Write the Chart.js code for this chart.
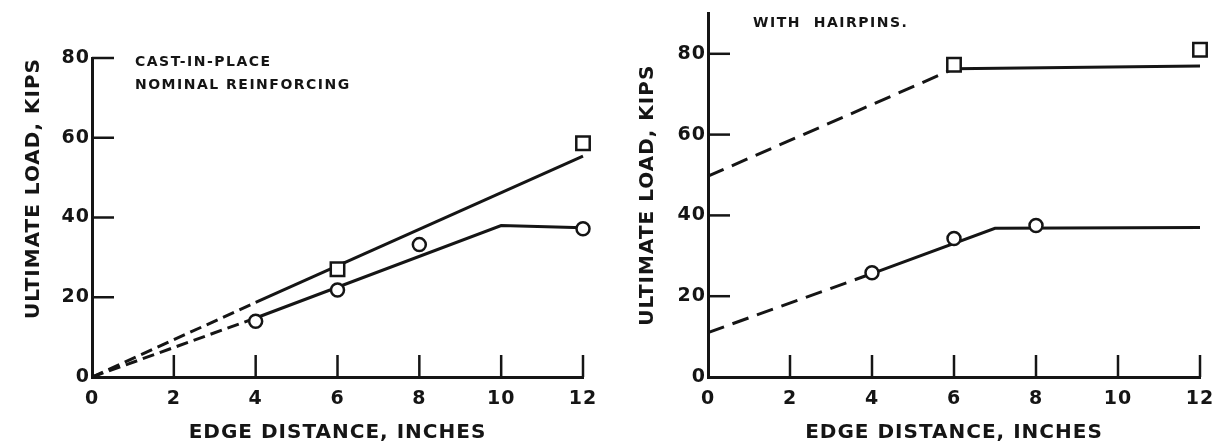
<!DOCTYPE html>
<html>
<head>
<meta charset="utf-8">
<script src="https://cdn.jsdelivr.net/npm/chart.js@4.4.1/dist/chart.umd.min.js"></script>
<style>
  html, body { margin: 0; padding: 0; background: #fff; }
  .panel { position: absolute; top: 0; height: 445px; }
  #left { left: 0; width: 612px; }
  #right { left: 612px; width: 613px; }
</style>
</head>
<body>
<div class="panel" id="left"><canvas id="chartLeft"></canvas></div>
<div class="panel" id="right"><canvas id="chartRight"></canvas></div>
<script>
const xTicks = [0, 2, 4, 6, 8, 10, 12];
const yTicks = [0, 20, 40, 60, 80];

// cast-in-place, nominal reinforcing
const leftSquareX = [6, 12];
const leftSquareY = [27, 58.6];
const leftCircleX = [4, 6, 8, 12];
const leftCircleY = [14, 21.8, 33.2, 37.2];
const leftUpperX = [0, 4, 12];
const leftUpperY = [0, 18.7, 55.4];
const leftLowerX = [0, 4, 10, 12];
const leftLowerY = [0, 14.8, 38, 37.4];

// with hairpins
const rightSquareX = [6, 12];
const rightSquareY = [77.3, 81];
const rightCircleX = [4, 6, 8];
const rightCircleY = [25.8, 34.3, 37.5];
const rightUpperX = [0, 6, 12];
const rightUpperY = [49.7, 76.3, 77];
const rightLowerX = [0, 4, 7, 12];
const rightLowerY = [11, 25.6, 36.8, 37];

const INK = '#151515';
const FONT = '"DejaVu Sans", "Liberation Sans", sans-serif';

const pts = (xs, ys) => xs.map((x, i) => ({x: x, y: ys[i]}));

// inward tick marks + the little notes, drawn from the scales
const innerTicks = {
  id: 'innerTicks',
  beforeDraw(chart) {
    chart.ctx.letterSpacing = '1px';
  },
  afterDraw(chart, args, opts) {
    const ctx = chart.ctx;
    const xs = chart.scales.x, ys = chart.scales.y;
    ctx.save();
    ctx.strokeStyle = INK;
    ctx.lineWidth = 2.5;
    xs.ticks.forEach(t => {
      if (t.value === 0) return;
      const px = xs.getPixelForValue(t.value);
      ctx.beginPath();
      ctx.moveTo(px, ys.bottom);
      ctx.lineTo(px, ys.bottom - 22);
      ctx.stroke();
    });
    ys.ticks.forEach(t => {
      if (t.value === 0) return;
      const py = ys.getPixelForValue(t.value);
      ctx.beginPath();
      ctx.moveTo(xs.left, py);
      ctx.lineTo(xs.left + 22, py);
      ctx.stroke();
    });
    ctx.fillStyle = INK;
    ctx.font = 'bold 14px ' + FONT;
    ctx.letterSpacing = '1.5px';
    ctx.textBaseline = 'middle';
    ctx.textAlign = 'left';
    opts.notes.forEach(n => {
      ctx.fillText(n.text, xs.getPixelForValue(n.x), ys.getPixelForValue(n.y));
    });
    ctx.restore();
  }
};

function lineSet(data, dash, dashUntil) {
  return {
    type: 'line',
    data: data,
    borderColor: INK,
    borderWidth: 3,
    pointRadius: 0,
    fill: false,
    tension: 0,
    clip: false,
    segment: {
      borderDash: c => c.p0DataIndex < dashUntil ? dash : undefined
    },
    order: 2
  };
}

function markerSet(data, style) {
  return {
    type: 'scatter',
    data: data,
    pointStyle: style,
    pointRadius: style === 'rect' ? 9.5 : 6.5,
    pointBackgroundColor: '#fff',
    pointBorderColor: INK,
    pointBorderWidth: 2.5,
    showLine: false,
    clip: false,
    order: 1
  };
}

function makeChart(id, p) {
  return new Chart(document.getElementById(id), {
    type: 'scatter',
    data: { datasets: p.datasets },
    options: {
      responsive: true,
      maintainAspectRatio: false,
      animation: false,
      layout: { padding: { top: p.top, right: p.right, bottom: 0, left: 0 } },
      plugins: {
        legend: { display: false },
        tooltip: { enabled: false },
        innerTicks: { notes: p.notes }
      },
      scales: {
        x: {
          type: 'linear', min: 0, max: 12,
          afterBuildTicks: s => { s.ticks = xTicks.map(v => ({value: v})); },
          grid: { display: true, drawOnChartArea: false, drawTicks: false },
          border: { display: true, color: INK, width: 3 },
          ticks: { color: INK, font: { family: FONT, size: 19, weight: 'bold' }, padding: 11, maxRotation: 0 },
          title: { display: true, text: 'EDGE DISTANCE, INCHES', color: INK,
                   font: { family: FONT, size: 20, weight: 'bold' }, padding: { top: 0, bottom: 0 } },
          afterFit: s => { s.height = 68; }
        },
        y: {
          type: 'linear', min: 0, max: p.ymax,
          afterBuildTicks: s => { s.ticks = yTicks.map(v => ({value: v})); },
          grid: { display: true, drawOnChartArea: false, drawTicks: false },
          border: { display: true, color: INK, width: 3 },
          ticks: { color: INK, font: { family: FONT, size: 19, weight: 'bold' }, padding: 2 },
          title: { display: true, text: 'ULTIMATE LOAD, KIPS', color: INK, align: p.titleAlign,
                   font: { family: FONT, size: 20, weight: 'bold' }, padding: { top: p.titlePad, bottom: 0 } },
          afterFit: s => { s.width = p.axisLeft; }
        }
      }
    },
    plugins: [innerTicks]
  });
}

makeChart('chartLeft', {
  top: 58, right: 29, axisLeft: 92, ymax: 80, titleAlign: 'end', titlePad: 22,
  notes: [
    { text: 'CAST-IN-PLACE', x: 1.05, y: 79 },
    { text: 'NOMINAL REINFORCING', x: 1.05, y: 73.2 }
  ],
  datasets: [
    markerSet(pts(leftSquareX, leftSquareY), 'rect'),
    markerSet(pts(leftCircleX, leftCircleY), 'circle'),
    lineSet(pts(leftUpperX, leftUpperY), [12, 6], 1),
    lineSet(pts(leftLowerX, leftLowerY), [12, 6], 1)
  ]
});

makeChart('chartRight', {
  top: 12, right: 25, axisLeft: 96, ymax: 90, titleAlign: 'center', titlePad: 24,
  notes: [
    { text: 'WITH  HAIRPINS.', x: 1.1, y: 87.6 }
  ],
  datasets: [
    markerSet(pts(rightSquareX, rightSquareY), 'rect'),
    markerSet(pts(rightCircleX, rightCircleY), 'circle'),
    lineSet(pts(rightUpperX, rightUpperY), [17, 9], 1),
    lineSet(pts(rightLowerX, rightLowerY), [17, 9], 1)
  ]
});
</script>
</body>
</html>
